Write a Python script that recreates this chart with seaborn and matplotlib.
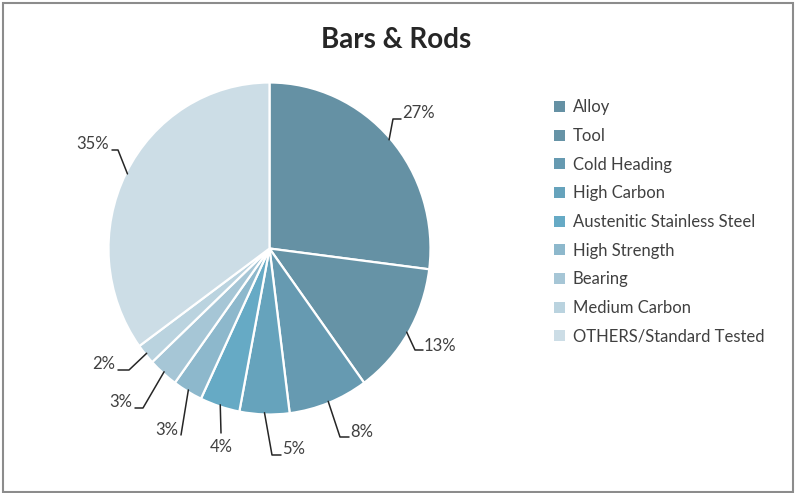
import matplotlib
matplotlib.use("Agg")
import matplotlib.pyplot as plt
from matplotlib.patches import Patch, Rectangle
import numpy as np
import seaborn as sns

categories = ["Alloy", "Tool", "Cold Heading", "High Carbon", "Austenitic Stainless Steel",
              "High Strength", "Bearing", "Medium Carbon", "OTHERS/Standard Tested"]
values = [27, 13, 8, 5, 4, 3, 3, 2, 35]
labels = ["27%", "13%", "8%", "5%", "4%", "3%", "3%", "2%", "35%"]
colors = ["#6591A4", "#6693A6", "#669AB1", "#66A3BC", "#66AAC5",
          "#8DB8CC", "#A6C6D6", "#BAD3DF", "#CCDDE6"]

sns.set_theme(style="white")
plt.rcParams["font.family"] = ["Lato", "DejaVu Sans"]

W, H = 795, 493
fig = plt.figure(figsize=(W / 100, H / 100), dpi=100)
fig.patch.set_facecolor("white")
fig.patches.append(Rectangle((3 / W, 1.5 / H), 789.5 / W, 489 / H, transform=fig.transFigure,
                             fill=False, edgecolor="#8c8c8c", linewidth=1.5))

cx, cy, RX, RY = 269.5, 248.5, 161, 166
ax = fig.add_axes([(cx - RX) / W, (H - cy - RY) / H, 2 * RX / W, 2 * RY / H])
pal = sns.color_palette(colors)
wedges, _ = ax.pie(values, colors=pal, startangle=90, counterclock=False, radius=1,
                   wedgeprops=dict(edgecolor="white", linewidth=1.6))
ax.set_xlim(-1, 1)
ax.set_ylim(-1, 1)
ax.set_aspect("auto")
ax.axis("off")

def d(px, py):
    return ((px - cx) / RX, (cy - py) / RY)

# label layout: elbow, end, text position, alignment (pixels)
layout = [
    ((393, 119), (401, 119), (402, 113), "left"),
    ((415, 350), (423, 350), (424, 346), "left"),
    ((340, 437), (349, 437), (350, 432), "left"),
    ((272, 455), (281, 455), (282, 449), "left"),
    ((221, 433), (221, 433), (221, 447), "center"),
    ((181, 435), (181, 435), (178, 430), "right"),
    ((143, 408), (135, 408), (132, 402), "right"),
    ((129, 370), (118, 370), (115, 364), "right"),
    ((118, 150), (112, 150), (109, 144), "right"),
]
for w, lab, (el, en, tp, ha) in zip(wedges, labels, layout):
    ang = np.deg2rad((w.theta1 + w.theta2) / 2)
    x0, y0 = np.cos(ang) * 0.99, np.sin(ang) * 0.99
    ex, ey = d(*el)
    nx, ny = d(*en)
    ax.plot([x0, ex, nx], [y0, ey, ny], color="#262626", lw=1.1, clip_on=False)
    tx, ty = d(*tp)
    ax.text(tx, ty, lab, ha=ha, va="center", fontsize=12, color="#404040")

fig.text(396 / W, 1 - 40 / H, "Bars & Rods", ha="center", va="center",
         fontsize=20, fontweight="bold", color="#262626")

handles = [Patch(facecolor=c, edgecolor="none") for c in colors]
leg = fig.legend(handles, categories, loc="upper left", bbox_to_anchor=(546 / W, 1 - 91 / H),
                 frameon=False, fontsize=12, handlelength=0.65, handleheight=0.65,
                 handletextpad=0.47, labelspacing=0.76, borderpad=0)
for t in leg.get_texts():
    t.set_color("#404040")

fig.savefig("out.png", dpi=100)
